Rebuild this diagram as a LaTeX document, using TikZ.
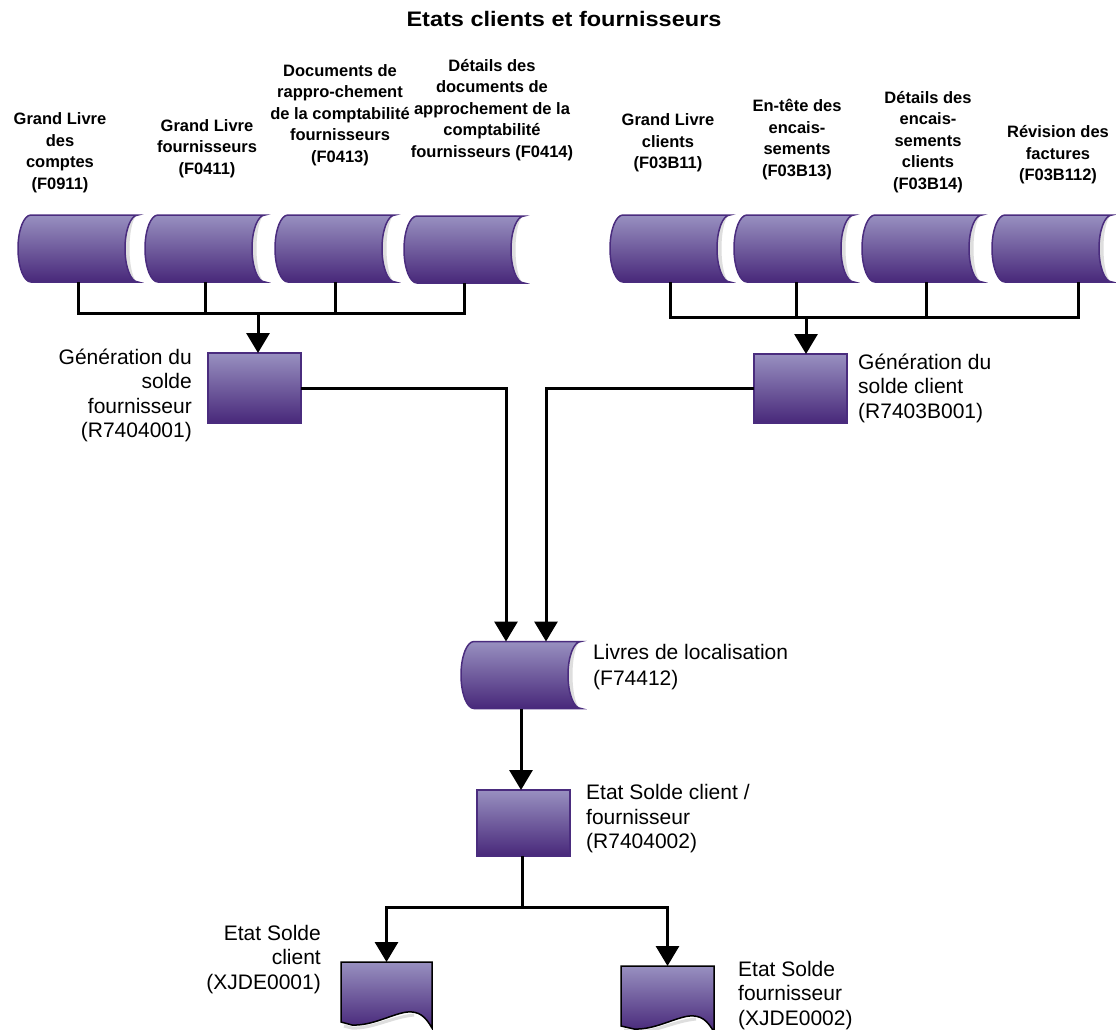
\documentclass[tikz,border=0pt]{standalone}
\usepackage{fontspec}
\setmainfont{Liberation Sans}
\usetikzlibrary{arrows.meta,calc}
\definecolor{ptop}{RGB}{152,144,192}
\definecolor{pbot}{RGB}{72,40,122}
\definecolor{pline}{RGB}{74,44,126}
\definecolor{hilite}{RGB}{222,222,222}

\newcommand{\stgshape}[1]{%
 \fill[hilite] (#1.north east)
   .. controls ([xshift=-7.2pt]#1.north east) and ([xshift=-13pt,yshift=18.5pt]#1.east) .. ([xshift=-13pt]#1.east)
   .. controls ([xshift=-13pt,yshift=-18.5pt]#1.east) and ([xshift=-7.2pt]#1.south east) .. (#1.south east)
   .. controls ([xshift=-4.5pt]#1.south east) and ([xshift=-8.5pt,yshift=-18.5pt]#1.east) .. ([xshift=-8.5pt]#1.east)
   .. controls ([xshift=-8.5pt,yshift=18.5pt]#1.east) and ([xshift=-4.5pt]#1.north east) .. (#1.north east) -- cycle;
 \shade[top color=ptop,bottom color=pbot,draw=pline,line width=1.5pt]
   ([xshift=13pt]#1.north west) -- (#1.north east)
   .. controls ([xshift=-7.2pt]#1.north east) and ([xshift=-13pt,yshift=18.5pt]#1.east) .. ([xshift=-13pt]#1.east)
   .. controls ([xshift=-13pt,yshift=-18.5pt]#1.east) and ([xshift=-7.2pt]#1.south east) .. (#1.south east)
   -- ([xshift=13pt]#1.south west)
   .. controls ([xshift=5.8pt]#1.south west) and ([yshift=-18.5pt]#1.west) .. (#1.west)
   .. controls ([yshift=18.5pt]#1.west) and ([xshift=5.8pt]#1.north west) .. ([xshift=13pt]#1.north west) -- cycle;
}
\newcommand{\docshape}[1]{%
 \draw[hilite,line width=3pt] ([xshift=-18pt,yshift=13pt]#1.south east)
   .. controls ([xshift=-40pt,yshift=11pt]#1.south east) and ([xshift=-60pt,yshift=-1pt]#1.south east) .. ([xshift=-80pt,yshift=0pt]#1.south east)
   -- ([xshift=3pt,yshift=2pt]#1.south west);
 \shade[top color=ptop,bottom color=pbot,draw=black,line width=1.5pt]
   (#1.north west) -- (#1.north east) -- (#1.south east)
   .. controls ([xshift=-7pt,yshift=12pt]#1.south east) and ([xshift=-13pt,yshift=17pt]#1.south east) .. ([xshift=-25pt,yshift=16pt]#1.south east)
   .. controls ([xshift=-40pt,yshift=14pt]#1.south east) and ([xshift=-60pt,yshift=2pt]#1.south east) .. ([xshift=-80pt,yshift=3pt]#1.south east)
   -- ([yshift=6pt]#1.south west) -- cycle;
}

\tikzset{
  stg/.style={minimum width=120pt,minimum height=67pt,inner sep=0pt,outer sep=0pt},
  procbox/.style={draw=pline,line width=1.5pt,top color=ptop,bottom color=pbot,minimum width=93pt,inner sep=0pt,outer sep=0pt},
  docbox/.style={minimum height=66pt,inner sep=0pt,outer sep=0pt},
  toplab/.style={font=\bfseries\fontsize{16.5pt}{21.5pt}\selectfont,align=center,inner sep=0pt},
  lab/.style={font=\fontsize{21pt}{24.5pt}\selectfont,inner sep=0pt},
  conn/.style={draw=black,line width=3pt},
  arr/.style={conn,-{Triangle[width=23pt,length=20pt]}},
}

\begin{document}
\begin{tikzpicture}[x=1pt,y=-1pt]
\useasboundingbox (0,0) rectangle (1116,1029);
\fill[white] (0,0) rectangle (1116,1029);

% title
\node[inner sep=0pt] (title) at (564,19) {\scalebox{1.12}[1]{\bfseries\fontsize{21pt}{24pt}\selectfont Etats clients et fournisseurs}};

% top labels
\node[toplab] (t1) at (60,152.5) {Grand Livre\\des\\comptes\\(F0911)};
\node[toplab] (t2) at (207,148.5) {Grand Livre\\fournisseurs\\(F0411)};
\node[toplab] (t3) at (340,115) {Documents de\\rappro-chement\\de la comptabilité\\fournisseurs\\(F0413)};
\node[toplab] (t4) at (492,110) {Détails des\\documents de\\approchement de la\\comptabilité\\fournisseurs (F0414)};
\node[toplab] (t5) at (668,143) {Grand Livre\\clients\\(F03B11)};
\node[toplab] (t6) at (797,139.5) {En-tête des\\encais-\\sements\\(F03B13)};
\node[toplab] (t7) at (928,142) {Détails des\\encais-\\sements\\clients\\(F03B14)};
\node[toplab] (t8) at (1058,155) {Révision des\\factures\\(F03B112)};

% storages
\node[stg] (s1) at (78,248.5) {};
\node[stg] (s2) at (205,248.5) {};
\node[stg] (s3) at (335,248.5) {};
\node[stg] (s4) at (464,249.5) {};
\node[stg] (r1) at (670,248.5) {};
\node[stg] (r2) at (794,248.5) {};
\node[stg] (r3) at (922,248.5) {};
\node[stg] (r4) at (1052,248.5) {};
\node[stg] (loc) at (521,675) {};
\foreach \n in {s1,s2,s3,s4,r1,r2,r3,r4,loc} {\stgshape{\n}}

% process boxes
\node[procbox,minimum height=70pt] (b1) at (254.5,388) {};
\node[procbox,minimum height=69pt] (b2) at (800.5,388.5) {};
\node[procbox,minimum height=66pt] (b3) at (523.5,823) {};

% documents
\node[docbox,minimum width=91pt] (d1) at (386.5,995) {};
\node[docbox,minimum width=93pt] (d2) at (667.5,999) {};
\docshape{d1}
\docshape{d2}

% labels
\node[lab,anchor=east,align=right] (g1) at (192,395.5) {Génération du\\solde\\fournisseur\\(R7404001)};
\node[lab,anchor=west,align=left] (g2) at (858,388) {Génération du\\solde client\\(R7403B001)};
\node[lab,anchor=west,align=left,font=\fontsize{21pt}{26pt}\selectfont] (gl) at (593,667) {Livres de localisation\\(F74412)};
\node[lab,anchor=west,align=left] (g3) at (586,819) {Etat Solde client /\\fournisseur\\(R7404002)};
\node[lab,anchor=east,align=right] (g4) at (321,959.5) {Etat Solde\\client\\(XJDE0001)};
\node[lab,anchor=west,align=left] (g5) at (738,995.5) {Etat Solde\\fournisseur\\(XJDE0002)};

% connectors left group
\coordinate (busL) at (258,313);
\foreach \n in {s1,s2,s3,s4} {\draw[conn] (\n.south) |- (busL);}
\draw[conn] (s1.south |- busL) -- (s4.south |- busL);
\draw[arr] (busL) -- (busL |- b1.north);

% connectors right group
\coordinate (busR) at (806,317);
\draw[conn] (r1.south) |- (busR);
\draw[conn] ([xshift=2pt]r2.south) |- (busR);
\draw[conn] ([xshift=4pt]r3.south) |- (busR);
\draw[conn] ([xshift=26pt]r4.south) |- (busR);
\draw[arr] (busR) -- (busR |- b2.north);

% to localisation
\draw[arr] (b1.east) -| ([xshift=-15pt]loc.north);
\draw[arr] (b2.west) -| ([xshift=25pt]loc.north);
\draw[arr] (loc.south) -- (loc.south |- b3.north);

% to documents
\coordinate (split) at (522,907);
\draw[conn] (split |- b3.south) -- (split);
\draw[arr] (split) -| (d1.north);
\draw[arr] (split) -| (d2.north);
\end{tikzpicture}
\end{document}
